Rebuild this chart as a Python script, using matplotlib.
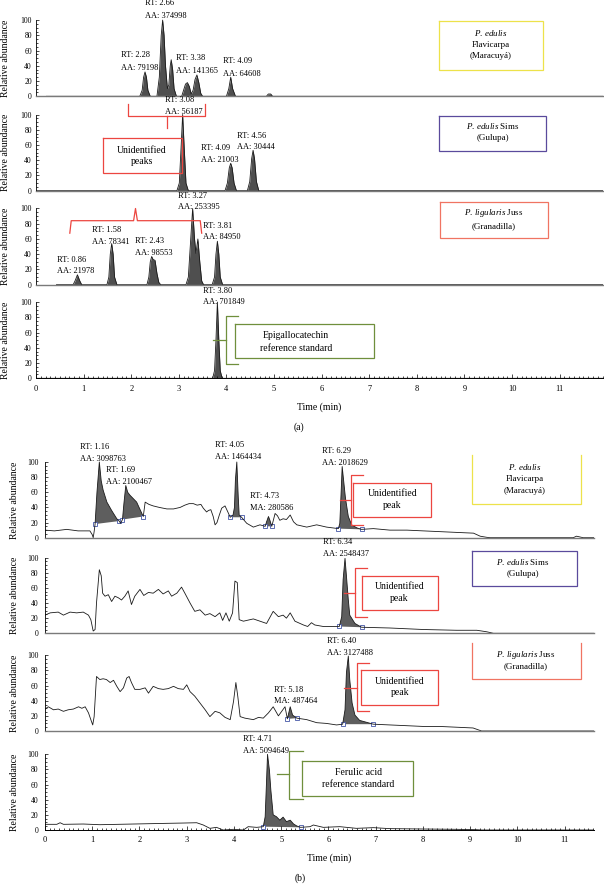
import matplotlib

matplotlib.use("Agg")
import matplotlib.pyplot as plt
from matplotlib.ticker import MultipleLocator
from matplotlib.transforms import blended_transform_factory

plt.rcParams["font.family"] = ["Liberation Serif", "DejaVu Serif"]
plt.rcParams["mathtext.fontset"] = "custom"
plt.rcParams["mathtext.rm"] = "Liberation Serif"
plt.rcParams["mathtext.it"] = "Liberation Serif:italic"

# ---- panel (a): epigallocatechin chromatograms (time in min, relative abundance) ----
A1_T = [0.22, 2.18, 2.23, 2.26, 2.29, 2.32, 2.35, 2.40, 2.54, 2.59,
        2.63, 2.66, 2.69, 2.72, 2.76, 2.79, 2.82, 2.84, 2.87, 2.90,
        2.95, 3.06, 3.10, 3.14, 3.18, 3.22, 3.26, 3.30, 3.34, 3.38,
        3.42, 3.46, 3.50, 4.00, 4.05, 4.09, 4.13, 4.19, 4.84, 4.88,
        4.93, 4.97, 11.91]
A1_V = [0, 0, 8, 25, 32, 25, 8, 0, 0, 25,
        80, 100, 80, 40, 10, 15, 40, 48, 35, 10,
        0, 0, 8, 16, 18, 13, 3, 8, 22, 28,
        18, 4, 0, 0, 10, 25, 10, 0, 0, 3,
        3, 0, 0]
A2_T = [0.0, 2.96, 3.01, 3.05, 3.08, 3.11, 3.15, 3.20, 3.97, 4.02,
        4.06, 4.09, 4.12, 4.16, 4.21, 4.44, 4.49, 4.53, 4.56, 4.59,
        4.63, 4.68, 11.91]
A2_V = [0, 0, 10, 60, 100, 60, 10, 0, 0, 10,
        30, 36, 30, 10, 0, 0, 12, 42, 53, 42,
        12, 0, 0]
A3_T = [0.43, 0.78, 0.82, 0.87, 0.92, 0.96, 1.49, 1.53, 1.56, 1.59,
        1.62, 1.65, 1.70, 2.33, 2.37, 2.40, 2.43, 2.46, 2.50, 2.54,
        2.58, 2.62, 3.15, 3.20, 3.24, 3.29, 3.33, 3.36, 3.40, 3.44,
        3.48, 3.52, 3.70, 3.75, 3.78, 3.81, 3.84, 3.87, 3.92, 11.91]
A3_V = [0, 0, 5, 13, 5, 0, 0, 10, 40, 54,
        40, 10, 0, 0, 10, 30, 37, 33, 32, 15,
        3, 0, 0, 10, 50, 100, 60, 41, 60, 30,
        5, 0, 0, 10, 40, 57, 40, 10, 0, 0]
A4_T = [0.0, 3.71, 3.75, 3.78, 3.81, 3.84, 3.87, 3.91, 11.91]
A4_V = [0, 0, 10, 50, 100, 50, 10, 0, 0]

# ---- panel (b): ferulic acid chromatograms ----
B1_T = [0.00, 0.20, 0.46, 0.70, 0.95, 1.00, 1.02, 1.04, 1.06, 1.10,
        1.15, 1.19, 1.23, 1.31, 1.41, 1.52, 1.57, 1.60, 1.64, 1.67,
        1.71, 1.75, 1.80, 1.94, 2.05, 2.08, 2.12, 2.20, 2.29, 2.42,
        2.58, 2.72, 2.86, 2.96, 3.05, 3.14, 3.22, 3.30, 3.35, 3.42,
        3.46, 3.51, 3.56, 3.60, 3.64, 3.69, 3.74, 3.81, 3.87, 3.92,
        3.98, 4.01, 4.03, 4.06, 4.09, 4.11, 4.16, 4.27, 4.41, 4.55,
        4.66, 4.69, 4.73, 4.76, 4.80, 4.87, 4.92, 4.97, 5.04, 5.11,
        5.19, 5.26, 5.33, 5.54, 5.75, 5.96, 6.21, 6.24, 6.27, 6.29,
        6.32, 6.36, 6.42, 6.49, 6.60, 6.70, 6.95, 7.30, 7.66, 8.01,
        8.36, 8.71, 9.07, 9.21, 9.35, 9.42, 11.18, 11.25, 11.32, 11.39,
        11.62]
B1_V = [10, 9, 11, 9, 9, 4, 0, 8, 18, 60,
        100, 75, 63, 47, 36, 25, 22, 19, 24, 45,
        69, 60, 56, 47, 32, 28, 47, 44, 42, 40,
        38, 38, 40, 43, 45, 45, 43, 44, 39, 34,
        36, 37, 28, 17, 20, 30, 39, 42, 34, 27,
        30, 40, 76, 100, 54, 30, 27, 19, 14, 17,
        15, 21, 28, 23, 15, 32, 29, 23, 25, 24,
        30, 21, 17, 14, 17, 14, 12, 19, 63, 94,
        76, 52, 28, 17, 13, 11, 12, 10, 10, 9,
        8, 7, 6, 2, 0.5, 0, 0, 2, 1, 0,
        0]
B2_T = [0.00, 0.11, 0.28, 0.39, 0.53, 0.67, 0.81, 0.92, 0.97, 1.02,
        1.06, 1.09, 1.15, 1.19, 1.22, 1.27, 1.34, 1.41, 1.48, 1.55,
        1.62, 1.69, 1.76, 1.83, 1.90, 2.01, 2.09, 2.19, 2.29, 2.40,
        2.50, 2.61, 2.68, 2.79, 2.89, 2.96, 3.07, 3.17, 3.28, 3.39,
        3.49, 3.60, 3.70, 3.76, 3.83, 3.90, 3.97, 4.02, 4.07, 4.11,
        4.20, 4.41, 4.55, 4.69, 4.83, 4.94, 5.04, 5.11, 5.19, 5.29,
        5.47, 5.56, 5.64, 5.71, 5.89, 6.23, 6.28, 6.31, 6.35, 6.38,
        6.42, 6.45, 6.56, 6.70, 7.30, 8.01, 8.71, 9.14, 9.35, 9.49,
        11.62]
B2_V = [24, 27, 28, 24, 28, 27, 28, 24, 18, 3,
        5, 40, 84, 76, 53, 49, 51, 42, 49, 47,
        44, 49, 56, 38, 49, 58, 50, 54, 53, 58,
        52, 56, 49, 53, 61, 53, 40, 29, 31, 24,
        26, 22, 27, 17, 27, 16, 27, 69, 67, 18,
        16, 19, 16, 13, 29, 22, 24, 20, 27, 16,
        11, 9, 14, 11, 9, 9, 22, 71, 99, 76,
        44, 24, 13, 8, 7, 5, 4, 4, 2, 0,
        0]
B3_T = [0.00, 0.07, 0.18, 0.28, 0.39, 0.49, 0.60, 0.71, 0.78, 0.85,
        0.92, 0.97, 1.01, 1.04, 1.09, 1.16, 1.23, 1.30, 1.38, 1.45,
        1.52, 1.59, 1.66, 1.73, 1.78, 1.83, 1.90, 2.01, 2.12, 2.19,
        2.29, 2.40, 2.50, 2.61, 2.72, 2.82, 2.93, 3.00, 3.07, 3.17,
        3.28, 3.39, 3.49, 3.60, 3.70, 3.81, 3.92, 3.99, 4.04, 4.08,
        4.13, 4.23, 4.41, 4.52, 4.62, 4.73, 4.83, 4.94, 5.01, 5.08,
        5.13, 5.19, 5.24, 5.33, 5.54, 5.75, 5.96, 6.17, 6.30, 6.35,
        6.38, 6.42, 6.45, 6.50, 6.56, 6.66, 6.95, 7.30, 7.66, 8.01,
        8.36, 8.71, 9.06, 9.24, 11.62]
B3_V = [29, 32, 28, 29, 26, 28, 29, 32, 30, 32,
        24, 15, 8, 19, 72, 68, 69, 68, 64, 67,
        59, 52, 57, 70, 72, 64, 55, 55, 57, 50,
        59, 56, 55, 56, 59, 56, 55, 61, 52, 46,
        37, 28, 19, 26, 24, 18, 15, 39, 64, 46,
        19, 17, 15, 18, 17, 24, 32, 20, 26, 32,
        16, 32, 21, 17, 15, 11, 10, 8, 9, 28,
        77, 99, 68, 37, 21, 14, 9, 8, 7, 6,
        6, 5, 4, 0, 0]
B4_T = [0.00, 0.25, 0.32, 0.39, 0.81, 1.16, 1.87, 2.58, 2.93, 3.21,
        3.35, 3.49, 3.63, 3.77, 3.99, 4.20, 4.30, 4.48, 4.62, 4.66,
        4.69, 4.71, 4.75, 4.78, 4.83, 4.90, 4.97, 5.04, 5.11, 5.19,
        5.26, 5.33, 5.41, 5.61, 5.68, 5.89, 6.24, 6.59, 6.95, 7.30,
        8.01, 8.71, 9.14, 9.24, 11.62]
B4_V = [7.5, 7.5, 9.6, 7.5, 7.9, 7, 7.9, 8.8, 9.2, 9.6,
        6.6, 2.2, 3.5, 0, 0.9, 0, 4.4, 3.5, 4.4, 17.5,
        66, 100, 79, 53, 20, 17.5, 13, 17, 11, 13,
        8, 5.3, 3.5, 4.4, 6.6, 3.5, 4.4, 2.2, 3.1, 1.8,
        1.3, 0.9, 0.4, 0, 0]

# integrated peak windows (start, end) in panel (b)
B_PEAK_WINDOWS = [
    [(1.06, 1.57), (1.64, 2.08), (3.92, 4.16), (4.66, 4.80), (6.21, 6.70)],
    [(6.23, 6.70)],
    [(5.13, 5.33), (6.30, 6.95)],
    [(4.62, 5.41)],
]

Y_TICKS = [0, 20, 40, 60, 80, 100]

# (row, x, y line1, y line2, line1, line2)
RT_LABELS_A = [
    (0, 1.78, 54, 37.5, "RT: 2.28", "AA: 79198"),
    (0, 2.29, 122, 106, "RT: 2.66", "AA: 374998"),
    (0, 2.94, 50, 33, "RT: 3.38", "AA: 141365"),
    (0, 3.92, 46, 29, "RT: 4.09", "AA: 64608"),
    (1, 2.70, 119, 103, "RT: 3.08", "AA: 56187"),
    (1, 3.47, 56, 40, "RT: 4.09", "AA: 21003"),
    (1, 4.23, 72, 58, "RT: 4.56", "AA: 30444"),
    (2, 0.45, 33, 18, "RT: 0.86", "AA: 21978"),
    (2, 1.18, 72, 56.5, "RT: 1.58", "AA: 78341"),
    (2, 2.08, 57.5, 41, "RT: 2.43", "AA: 98553"),
    (2, 2.99, 116.5, 101.5, "RT: 3.27", "AA: 253395"),
    (2, 3.51, 77.5, 62.5, "RT: 3.81", "AA: 84950"),
    (3, 3.50, 114, 100, "RT: 3.80", "AA: 701849"),
]
RT_LABELS_B = [
    (0, 0.74, 119.5, 104.5, "RT: 1.16", "AA: 3098763"),
    (0, 1.29, 89, 73, "RT: 1.69", "AA: 2100467"),
    (0, 3.60, 122, 106, "RT: 4.05", "AA: 1464434"),
    (0, 4.34, 55, 39, "RT: 4.73", "MA: 280586"),
    (0, 5.86, 115, 99, "RT: 6.29", "AA: 2018629"),
    (1, 5.89, 120, 104.5, "RT: 6.34", "AA: 2548437"),
    (2, 4.85, 54, 39, "RT: 5.18", "MA: 487464"),
    (2, 5.97, 119, 103.5, "RT: 6.40", "AA: 3127488"),
    (3, 4.20, 120.5, 104.5, "RT: 4.71", "AA: 5094649"),
]

SPECIES = [
    (r"$\it{P.\,edulis}$", "Flavicarpa", "(Maracuyá)"),
    (r"$\it{P.\,edulis}$ Sims", "(Gulupa)"),
    (r"$\it{P.\,ligularis}$ Juss", "(Granadilla)"),
]
SPECIES_COLORS = ["#ede24a", "#5a4a9c", "#f07462"]
RED = "#ec4640"
GREEN = "#6f8f3c"

FIG_W, FIG_H = 604, 884


def make_axes(fig, left, right, zero, slot, px100, xmax, bottom_axis, label_px, ypad):
    ax = fig.add_axes([left / FIG_W, 1 - zero / FIG_H, (right - left) / FIG_W, slot / FIG_H])
    ax.set_facecolor("none")
    ax.set_xlim(0, xmax)
    ax.set_ylim(0, 100 * slot / px100)
    ax.spines["top"].set_visible(False)
    ax.spines["right"].set_visible(False)
    ax.spines["left"].set_bounds(0, 100)
    ax.spines["left"].set_linewidth(0.6)
    ax.set_yticks(Y_TICKS)
    ax.set_yticks(range(0, 101, 5), minor=True)
    ax.tick_params(axis="y", which="both", direction="in", width=0.5, labelsize=5.5, pad=ypad)
    ax.tick_params(axis="y", which="major", length=2.5)
    ax.tick_params(axis="y", which="minor", length=1.2)
    if bottom_axis:
        ax.spines["bottom"].set_linewidth(0.7)
        ax.xaxis.set_major_locator(MultipleLocator(1))
        ax.xaxis.set_minor_locator(MultipleLocator(0.1))
        ax.tick_params(axis="x", which="both", direction="in", width=0.5, labelsize=6, pad=4.5)
        ax.tick_params(axis="x", which="major", length=3)
        ax.tick_params(axis="x", which="minor", length=1.5)
    else:
        ax.spines["bottom"].set_color("#7a7a7a")
        ax.spines["bottom"].set_linewidth(1.0)
        ax.tick_params(axis="x", which="both", bottom=False, labelbottom=False)
    trans = blended_transform_factory(ax.transAxes, ax.transData)
    ax.text((label_px - left) / (right - left), 50, "Relative abundance", transform=trans,
            rotation=90, ha="center", va="center", fontsize=7)
    return ax


def draw_rt_labels(axes, labels):
    for row, x, y1, y2, s1, s2 in labels:
        axes[row].text(x, y1, s1, fontsize=6, ha="left", va="center")
        axes[row].text(x, y2, s2, fontsize=6, ha="left", va="center")


def draw_box(ax, x0, x1, y0, y1, color, open_top=False):
    if open_top:
        xs, ys = [x0, x0, x1, x1], [y1, y0, y0, y1]
    else:
        xs, ys = [x0, x0, x1, x1, x0], [y1, y0, y0, y1, y1]
    ax.plot(xs, ys, color=color, lw=0.9, solid_joinstyle="miter", clip_on=False)


def draw_brace(ax, tip_x, spine_x, arm_x, y_top, y_bot, y_tip, color):
    ax.plot([arm_x, spine_x, spine_x, arm_x], [y_top, y_top, y_bot, y_bot], color=color, lw=0.9)
    ax.plot([tip_x, spine_x], [y_tip, y_tip], color=color, lw=0.9)


def box_text(ax, x, ys, lines, size=6.5):
    for y, s in zip(ys, lines):
        ax.text(x, y, s, fontsize=size, ha="center", va="center")


def draw_panel_a(fig):
    zeros = [96.3, 190.7, 284.7, 378.3]
    traces = [(A1_T, A1_V), (A2_T, A2_V), (A3_T, A3_V), (A4_T, A4_V)]
    axes = []
    for i, (t, v) in enumerate(traces):
        ax = make_axes(fig, 36, 603, zeros[i], 94.2, 76.2, 11.91, i == 3, 6, 3)
        ax.fill_between(t, v, 0, color="#4f4f4f", lw=0)
        ax.plot(t, v, color="#1a1a1a", lw=0.6)
        axes.append(ax)
    draw_rt_labels(axes, RT_LABELS_A)

    # species boxes
    draw_box(axes[0], 8.47, 10.66, 34.5, 98.7, SPECIES_COLORS[0])
    box_text(axes[0], 9.56, [83.4, 67.2, 52.8], SPECIES[0])
    draw_box(axes[1], 8.47, 10.71, 52.4, 98.3, SPECIES_COLORS[1])
    box_text(axes[1], 9.59, [84.8, 68.7], SPECIES[1])
    draw_box(axes[2], 8.49, 10.75, 61, 108, SPECIES_COLORS[2])
    box_text(axes[2], 9.62, [94, 76.3], SPECIES[2])

    # unidentified peaks bracket and box
    ax = axes[1]
    ax.plot([1.94, 1.94, 3.55, 3.55], [113.5, 97.4, 97.4, 113.5], color=RED, lw=0.9)
    ax.plot([2.75, 2.75], [97.4, 81.8], color=RED, lw=0.9)
    draw_box(ax, 1.40, 3.06, 23.6, 68.7, RED)
    box_text(ax, 2.22, [53, 38], ["Unidentified", "peaks"], size=7)

    ax = axes[2]
    ax.plot([0.71, 0.74, 2.05, 2.09, 2.13, 3.45, 3.48],
            [67.6, 84, 84, 100, 84, 84, 67.6], color=RED, lw=0.9)

    ax = axes[3]
    draw_brace(ax, 3.72, 4.00, 4.25, 82, 19, 50.6, GREEN)
    draw_box(ax, 4.17, 7.09, 26.4, 71.7, GREEN)
    box_text(ax, 5.46, [56.3, 38.7], ["Epigallocatechin", "reference standard"], size=7)

    fig.text(319 / FIG_W, 1 - 406.7 / FIG_H, "Time (min)", fontsize=7, ha="center", va="center")
    fig.text(299 / FIG_W, 1 - 426.7 / FIG_H, "(a)", fontsize=7, ha="center", va="center")


def draw_panel_b(fig):
    zeros = [537.7, 633.3, 731.0, 830.0]
    traces = [(B1_T, B1_V), (B2_T, B2_V), (B3_T, B3_V), (B4_T, B4_V)]
    axes = []
    for i, (t, v) in enumerate(traces):
        ax = make_axes(fig, 45, 594, zeros[i], 97.4, 75.7, 11.62, i == 3, 15, 4.8)
        for t0, t1 in B_PEAK_WINDOWS[i]:
            seg = [(a, b) for a, b in zip(t, v) if t0 <= a <= t1]
            xs = [p[0] for p in seg]
            ys = [p[1] for p in seg]
            ax.fill(xs, ys, color="#5e5e5e", lw=0)
            ax.plot([xs[0], xs[-1]], [ys[0], ys[-1]], ls="none", marker="s", ms=2.6,
                    mfc="white", mec="#4456a6", mew=0.6)
        ax.plot(t, v, color="#1a1a1a", lw=0.6)
        axes.append(ax)
    draw_rt_labels(axes, RT_LABELS_B)

    draw_box(axes[0], 9.03, 11.34, 44.3, 108.8, SPECIES_COLORS[0], open_top=True)
    box_text(axes[0], 10.16, [93.4, 78.2, 61.4], SPECIES[0])
    draw_box(axes[1], 9.03, 11.25, 62.1, 108.8, SPECIES_COLORS[1])
    box_text(axes[1], 10.12, [94, 77.7], SPECIES[1])
    draw_box(axes[2], 9.03, 11.34, 69, 116, SPECIES_COLORS[2], open_top=True)
    box_text(axes[2], 10.18, [100, 85], SPECIES[2])

    # unidentified peak callouts
    draw_brace(axes[0], 6.24, 6.47, 6.74, 82.5, 16.7, 49.6, RED)
    draw_box(axes[0], 6.52, 8.18, 26.8, 72.9, RED)
    box_text(axes[0], 7.35, [58.4, 43], ["Unidentified", "peak"], size=7)
    draw_brace(axes[1], 6.33, 6.56, 6.82, 86.7, 22, 53.3, RED)
    draw_box(axes[1], 6.70, 8.32, 31, 75.5, RED)
    box_text(axes[1], 7.50, [62, 45.7], ["Unidentified", "peak"], size=7)
    draw_brace(axes[2], 6.33, 6.61, 6.86, 90.2, 25.8, 57, RED)
    draw_box(axes[2], 6.69, 8.32, 34.7, 80.4, RED)
    box_text(axes[2], 7.51, [65.7, 50.3], ["Unidentified", "peak"], size=7)

    draw_brace(axes[3], 4.92, 5.17, 5.47, 105, 40.4, 73.7, GREEN)
    draw_box(axes[3], 5.43, 7.78, 44.7, 91.2, GREEN)
    box_text(axes[3], 6.63, [75.4, 60.5], ["Ferulic acid", "reference standard"], size=7)

    fig.text(329 / FIG_W, 1 - 858 / FIG_H, "Time (min)", fontsize=7, ha="center", va="center")
    fig.text(300 / FIG_W, 1 - 878 / FIG_H, "(b)", fontsize=7, ha="center", va="center")


def main():
    fig = plt.figure(figsize=(FIG_W / 100, FIG_H / 100), dpi=100)
    draw_panel_a(fig)
    draw_panel_b(fig)
    fig.savefig("out.png", dpi=100)
    plt.close(fig)


if __name__ == "__main__":
    main()
